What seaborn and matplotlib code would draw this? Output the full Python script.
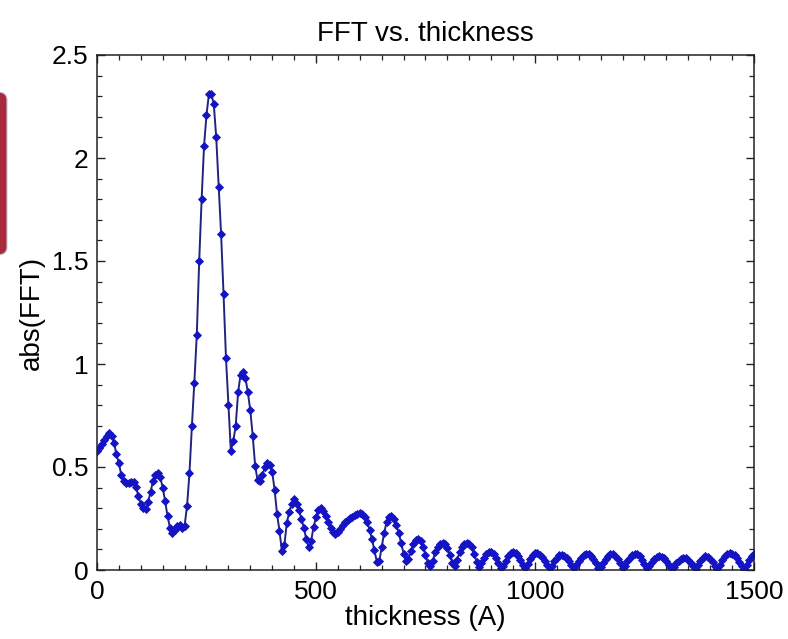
import numpy as np
import matplotlib
matplotlib.use('Agg')
import matplotlib.pyplot as plt
import seaborn as sns
from matplotlib.patches import FancyBboxPatch
from matplotlib.ticker import MultipleLocator

# ---- data (abs(FFT) on an even thickness grid 0..1500 A) ----
fft_abs = [
    0.580, 0.594, 0.610, 0.630, 0.652, 0.666, 0.652, 0.617, 0.562, 0.517,
    0.461, 0.431, 0.422, 0.421, 0.425, 0.427, 0.405, 0.360, 0.320, 0.300,
    0.298, 0.332, 0.377, 0.433, 0.461, 0.472, 0.450, 0.400, 0.335, 0.260,
    0.205, 0.181, 0.192, 0.214, 0.218, 0.205, 0.215, 0.310, 0.470, 0.700,
    0.910, 1.140, 1.500, 1.800, 2.060, 2.210, 2.310, 2.310, 2.260, 2.100,
    1.860, 1.630, 1.340, 1.030, 0.800, 0.580, 0.625, 0.700, 0.865, 0.948,
    0.962, 0.932, 0.862, 0.775, 0.650, 0.505, 0.435, 0.433, 0.460, 0.500,
    0.518, 0.510, 0.475, 0.388, 0.270, 0.190, 0.090, 0.120, 0.230, 0.280,
    0.320, 0.343, 0.322, 0.290, 0.250, 0.205, 0.150, 0.110, 0.140, 0.210,
    0.255, 0.292, 0.300, 0.285, 0.264, 0.234, 0.204, 0.183, 0.175, 0.183,
    0.198, 0.217, 0.232, 0.243, 0.251, 0.258, 0.266, 0.272, 0.277, 0.273,
    0.259, 0.235, 0.195, 0.150, 0.095, 0.040, 0.042, 0.110, 0.180, 0.232,
    0.258, 0.260, 0.246, 0.218, 0.180, 0.130, 0.080, 0.045, 0.055, 0.090,
    0.124, 0.146, 0.152, 0.140, 0.112, 0.075, 0.035, 0.020, 0.045, 0.085,
    0.112, 0.128, 0.131, 0.125, 0.105, 0.075, 0.035, 0.020, 0.050, 0.085,
    0.110, 0.126, 0.132, 0.128, 0.110, 0.080, 0.040, 0.015, 0.035, 0.060,
    0.078, 0.086, 0.085, 0.076, 0.060, 0.035, 0.012, 0.020, 0.045, 0.068,
    0.081, 0.085, 0.082, 0.070, 0.050, 0.025, 0.008, 0.030, 0.055, 0.072,
    0.081, 0.082, 0.075, 0.062, 0.045, 0.025, 0.008, 0.020, 0.042, 0.060,
    0.071, 0.074, 0.070, 0.060, 0.045, 0.025, 0.008, 0.022, 0.042, 0.060,
    0.072, 0.078, 0.077, 0.068, 0.052, 0.032, 0.010, 0.015, 0.036, 0.055,
    0.070, 0.077, 0.078, 0.070, 0.055, 0.034, 0.010, 0.020, 0.042, 0.060,
    0.073, 0.078, 0.076, 0.066, 0.050, 0.030, 0.008, 0.020, 0.038, 0.052,
    0.062, 0.066, 0.064, 0.056, 0.042, 0.025, 0.008, 0.015, 0.032, 0.046,
    0.055, 0.058, 0.056, 0.048, 0.035, 0.018, 0.006, 0.022, 0.042, 0.058,
    0.066, 0.064, 0.055, 0.040, 0.020, 0.006, 0.025, 0.048, 0.066, 0.078,
    0.082, 0.080, 0.072, 0.058, 0.040, 0.020, 0.006, 0.025, 0.048, 0.066,
    0.080,
]
thickness = np.linspace(0, 1500, len(fft_abs))

x_ticks = [0, 500, 1000, 1500]
y_ticks = [0, 0.5, 1, 1.5, 2, 2.5]
y_tick_labels = ["0", "0.5", "1", "1.5", "2", "2.5"]

LINE_COLOR = "#23237e"
MARKER_COLOR = "#1414c4"

# ---- style ----
sns.set_theme(style="ticks")
plt.rcParams['font.family'] = ['Liberation Sans', 'DejaVu Sans']

fig = plt.figure(figsize=(7.88, 6.39), dpi=100)
fig.patch.set_facecolor('white')
ax = fig.add_axes([97 / 788, 69 / 639, 657 / 788, 515 / 639])

sns.lineplot(x=thickness, y=fft_abs, ax=ax, color=LINE_COLOR, linewidth=1.4,
             marker='D', markersize=3.8, markerfacecolor=MARKER_COLOR,
             markeredgecolor=MARKER_COLOR, markeredgewidth=0.6)

ax.set_xlim(0, 1500)
ax.set_ylim(0, 2.5)
ax.set_xticks(x_ticks)
ax.set_xticklabels([str(t) for t in x_ticks])
ax.set_yticks(y_ticks)
ax.set_yticklabels(y_tick_labels)
ax.xaxis.set_minor_locator(MultipleLocator(50))
ax.yaxis.set_minor_locator(MultipleLocator(0.1))

for side in ['top', 'right', 'left', 'bottom']:
    ax.spines[side].set_visible(True)
    ax.spines[side].set_color('#222222')
    ax.spines[side].set_linewidth(1.1)

ax.tick_params(which='both', direction='in', top=True, right=True, colors='#222222')
ax.tick_params(which='major', length=6, width=1.0, labelsize=19, labelcolor='black')
ax.tick_params(which='minor', length=3.8, width=0.9)
ax.tick_params(axis='x', which='major', pad=7)
ax.tick_params(axis='y', which='major', pad=6)

ax.set_title("FFT vs. thickness", fontsize=20, pad=10, color='black')
ax.set_xlabel("thickness (A)", fontsize=20, labelpad=1, color='black')
ax.set_ylabel("abs(FFT)", fontsize=20, labelpad=5, color='black')

# cropped red slide element at the left edge of the screenshot
fig.patches.append(FancyBboxPatch((-14 / 788, (639 - 255) / 639), 21 / 788, 163 / 639,
                                  boxstyle="round,pad=0,rounding_size=0.012",
                                  transform=fig.transFigure, facecolor='#a82a3c',
                                  edgecolor='#c9c9c9', linewidth=0.8, zorder=5))

fig.savefig("out.png", dpi=100)
